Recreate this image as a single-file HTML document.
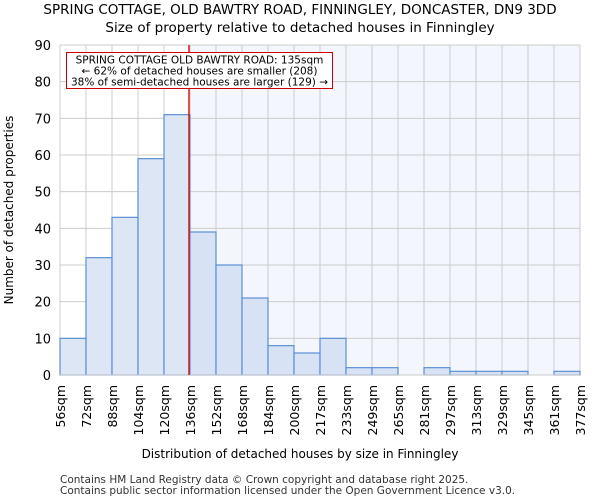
<!DOCTYPE html>
<html><head><meta charset="utf-8"><style>
body{margin:0;background:#fff;font-family:"DejaVu Sans","Liberation Sans",sans-serif}
svg text{font-family:"DejaVu Sans","Liberation Sans",sans-serif}
</style></head><body>
<svg id="c" width="600" height="500">
<text x="300" y="14" font-size="13.5" text-anchor="middle">SPRING COTTAGE, OLD BAWTRY ROAD, FINNINGLEY, DONCASTER, DN9 3DD</text>
<text x="300" y="32" font-size="13.5" text-anchor="middle">Size of property relative to detached houses in Finningley</text>
<g id="plot"></g>
<text x="300" y="458" font-size="12" text-anchor="middle">Distribution of detached houses by size in Finningley</text>
<text transform="translate(13,210) rotate(-90)" font-size="12" text-anchor="middle">Number of detached properties</text>
<text x="60" y="483" font-size="10.5" fill="#333">Contains HM Land Registry data © Crown copyright and database right 2025.</text>
<text x="60" y="494" font-size="10.5" fill="#333">Contains public sector information licensed under the Open Government Licence v3.0.</text>
</svg>
<script>
const binLabels=["56sqm","72sqm","88sqm","104sqm","120sqm","136sqm","152sqm","168sqm","184sqm","200sqm","217sqm","233sqm","249sqm","265sqm","281sqm","297sqm","313sqm","329sqm","345sqm","361sqm","377sqm"];
const counts=[10,32,43,59,71,39,30,21,8,6,10,2,2,0,2,1,1,1,0,1];
const yTicks=[0,10,20,30,40,50,60,70,80,90];
const markerBin=4.96;
const NS="http://www.w3.org/2000/svg";
const L=60,R=580,T=45,B=375,yMax=90;
const bw=(R-L)/counts.length;
const xs=i=>L+i*bw, ys=v=>B-(v/yMax)*(B-T);
const g=document.getElementById('plot');
function mk(t,a){const e=document.createElementNS(NS,t);for(const k in a)e.setAttribute(k,a[k]);g.appendChild(e);return e;}
const mx=xs(markerBin);
let e=mk('rect',{x:mx,y:T,width:R-mx,height:B-T,fill:'#f3f6fd'});

yTicks.forEach(v=>{let l=mk('line',{x1:L,x2:R,y1:ys(v),y2:ys(v),stroke:'#ccc','stroke-width':1});

let t=mk('text',{x:L-9,y:ys(v)+5,'font-size':13,'text-anchor':'end'});t.textContent=v;
});
binLabels.forEach((s,i)=>{let l=mk('line',{x1:xs(i),x2:xs(i),y1:T,y2:B,stroke:'#ccc','stroke-width':1});

let t=mk('text',{transform:`translate(${xs(i)+5},${B+10}) rotate(-90)`,'font-size':12.5,'text-anchor':'end'});t.textContent=s;
});
counts.forEach((v,i)=>{if(v<=0)return;let r=mk('rect',{x:xs(i),y:ys(v),width:bw,height:B-ys(v),fill:i<5?'#dce6f4':'#d7e2f4',stroke:'#5b8fd6','stroke-width':1.2});
});
e=mk('line',{x1:L,x2:R,y1:B,y2:B,stroke:'#ccc'});
e=mk('line',{x1:mx,x2:mx,y1:T,y2:B,stroke:'#d00','stroke-width':1.3});

e=mk('rect',{x:66.5,y:52.5,width:266,height:36,fill:'#fff',stroke:'#c00','stroke-width':1});

["SPRING COTTAGE OLD BAWTRY ROAD: 135sqm","← 62% of detached houses are smaller (208)","38% of semi-detached houses are larger (129) →"].forEach((s,i)=>{
let t=mk('text',{x:199.5,y:63.5+i*11,'font-size':10.5,'text-anchor':'middle'});t.textContent=s;
});
</script>
</body></html>
